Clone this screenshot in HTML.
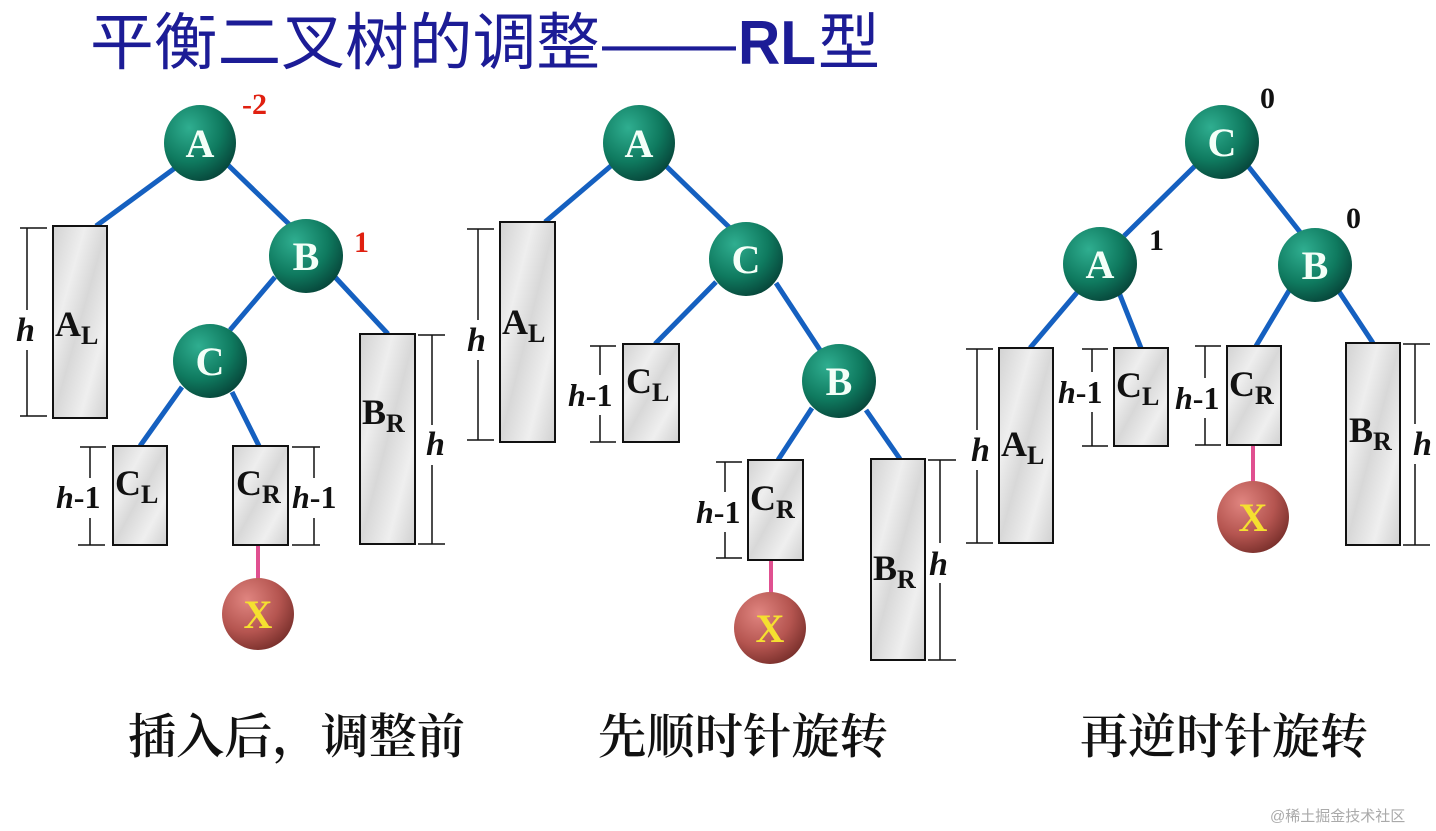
<!DOCTYPE html>
<html><head><meta charset="utf-8"><style>
html,body{margin:0;padding:0;background:#fff;}
svg{display:block}
.t{font-family:"Liberation Serif","Noto Serif CJK SC",serif;font-weight:bold}
</style></head><body>
<svg width="1436" height="831" viewBox="0 0 1436 831" xmlns="http://www.w3.org/2000/svg">
<defs>
<radialGradient id="g" cx="0.35" cy="0.3" r="0.75"><stop offset="0" stop-color="#2fae90"/><stop offset="0.6" stop-color="#0f7a5f"/><stop offset="1" stop-color="#07463a"/></radialGradient>
<radialGradient id="r" cx="0.35" cy="0.3" r="0.75"><stop offset="0" stop-color="#e08580"/><stop offset="0.6" stop-color="#b55550"/><stop offset="1" stop-color="#7a302c"/></radialGradient>
<linearGradient id="m" x1="0" y1="0" x2="1" y2="1"><stop offset="0" stop-color="#d2d2d2"/><stop offset="0.3" stop-color="#eeeeee"/><stop offset="0.5" stop-color="#d8d8d8"/><stop offset="0.75" stop-color="#efefef"/><stop offset="1" stop-color="#d0d0d0"/></linearGradient>
</defs>
<g font-family="Liberation Sans,'Noto Sans CJK SC',sans-serif" fill="#1c1c96">
<text x="90" y="64" font-size="62" textLength="510" lengthAdjust="spacingAndGlyphs">平衡二叉树的调整</text>
<text x="602" y="64" font-size="62" textLength="134" lengthAdjust="spacingAndGlyphs">——</text>
<text x="738" y="64" font-size="62" font-weight="bold" textLength="78" lengthAdjust="spacingAndGlyphs">RL</text>
<text x="818" y="64" font-size="62">型</text>
</g>

<g stroke="#1560c0" stroke-width="5" fill="none">
<line x1="175" y1="168" x2="96" y2="226"/><line x1="228" y1="165" x2="292" y2="227"/>
<line x1="275" y1="277" x2="230" y2="330"/><line x1="335" y1="277" x2="388" y2="334"/>
<line x1="182" y1="387" x2="140" y2="446"/><line x1="232" y1="392" x2="259" y2="446"/>
<line x1="612" y1="165" x2="545" y2="222"/><line x1="665" y1="165" x2="730" y2="228"/>
<line x1="716" y1="282" x2="655" y2="344"/><line x1="776" y1="283" x2="820" y2="350"/>
<line x1="812" y1="408" x2="778" y2="460"/><line x1="866" y1="410" x2="900" y2="459"/>
<line x1="1195" y1="166" x2="1124" y2="236"/><line x1="1248" y1="166" x2="1300" y2="232"/>
<line x1="1080" y1="289" x2="1030" y2="348"/><line x1="1118" y1="290" x2="1141" y2="348"/>
<line x1="1290" y1="289" x2="1256" y2="346"/><line x1="1338" y1="290" x2="1373" y2="343"/>
</g>
<g stroke="#e05090" stroke-width="4">
<line x1="258" y1="545" x2="258" y2="580"/><line x1="771" y1="560" x2="771" y2="594"/><line x1="1253" y1="445" x2="1253" y2="482"/>
</g>

<g fill="url(#m)" stroke="#111" stroke-width="2">
<rect x="53" y="226" width="54" height="192"/><rect x="113" y="446" width="54" height="99"/>
<rect x="233" y="446" width="55" height="99"/><rect x="360" y="334" width="55" height="210"/>
<rect x="500" y="222" width="55" height="220"/><rect x="623" y="344" width="56" height="98"/>
<rect x="748" y="460" width="55" height="100"/><rect x="871" y="459" width="54" height="201"/>
<rect x="999" y="348" width="54" height="195"/><rect x="1114" y="348" width="54" height="98"/>
<rect x="1227" y="346" width="54" height="99"/><rect x="1346" y="343" width="54" height="202"/>
</g>

<g stroke="#111" stroke-width="1.5" fill="none">
<path d="M20 228H47M20 416H47M27 228V310M27 350V416"/>
<path d="M80 447H106M78 545H105M90 447V478M90 518V545"/>
<path d="M292 447H320M292 545H320M314 447V478M314 518V545"/>
<path d="M418 335H445M418 544H445M432 335V425M432 465V544"/>
<path d="M467 229H494M467 440H494M478 229V320M478 360V440"/>
<path d="M590 346H616M590 442H616M600 346V375M600 415V442"/>
<path d="M716 462H742M716 558H742M725 462V492M725 532V558"/>
<path d="M928 460H956M928 660H956M940 460V543M940 583V660"/>
<path d="M966 349H993M966 543H993M977 349V430M977 470V543"/>
<path d="M1082 349H1108M1082 446H1108M1092 349V372M1092 412V446"/>
<path d="M1195 346H1221M1195 445H1221M1205 346V378M1205 418V445"/>
<path d="M1403 344H1430M1403 545H1430M1415 344V424M1415 464V545"/>
</g>

<g class="t" font-size="34" fill="#111" font-style="italic">
<text x="16" y="341">h</text><text x="467" y="351">h</text><text x="426" y="455">h</text>
<text x="929" y="575">h</text><text x="971" y="461">h</text><text x="1413" y="455">h</text>
</g>
<g class="t" font-size="32" fill="#111">
<text x="56" y="508"><tspan font-style="italic">h</tspan>-1</text>
<text x="292" y="508"><tspan font-style="italic">h</tspan>-1</text>
<text x="568" y="406"><tspan font-style="italic">h</tspan>-1</text>
<text x="696" y="523"><tspan font-style="italic">h</tspan>-1</text>
<text x="1058" y="403"><tspan font-style="italic">h</tspan>-1</text>
<text x="1175" y="409"><tspan font-style="italic">h</tspan>-1</text>
</g>
<g class="t" fill="#111">
<text x="55" y="336" font-size="36">A<tspan font-size="26" dy="8">L</tspan></text>
<text x="115" y="495" font-size="36">C<tspan font-size="26" dy="8">L</tspan></text>
<text x="236" y="495" font-size="36">C<tspan font-size="26" dy="8">R</tspan></text>
<text x="362" y="424" font-size="36">B<tspan font-size="26" dy="8">R</tspan></text>
<text x="502" y="334" font-size="36">A<tspan font-size="26" dy="8">L</tspan></text>
<text x="626" y="393" font-size="36">C<tspan font-size="26" dy="8">L</tspan></text>
<text x="750" y="510" font-size="36">C<tspan font-size="26" dy="8">R</tspan></text>
<text x="873" y="580" font-size="36">B<tspan font-size="26" dy="8">R</tspan></text>
<text x="1001" y="456" font-size="36">A<tspan font-size="26" dy="8">L</tspan></text>
<text x="1116" y="397" font-size="36">C<tspan font-size="26" dy="8">L</tspan></text>
<text x="1229" y="396" font-size="36">C<tspan font-size="26" dy="8">R</tspan></text>
<text x="1349" y="442" font-size="36">B<tspan font-size="26" dy="8">R</tspan></text>
</g>

<g fill="url(#g)">
<ellipse cx="200" cy="143" rx="36" ry="38"/><ellipse cx="306" cy="256" rx="37" ry="37"/><ellipse cx="210" cy="361" rx="37" ry="37"/>
<ellipse cx="639" cy="143" rx="36" ry="38"/><ellipse cx="746" cy="259" rx="37" ry="37"/><ellipse cx="839" cy="381" rx="37" ry="37"/>
<ellipse cx="1222" cy="142" rx="37" ry="37"/><ellipse cx="1100" cy="264" rx="37" ry="37"/><ellipse cx="1315" cy="265" rx="37" ry="37"/>
</g>
<g fill="url(#r)">
<circle cx="258" cy="614" r="36"/><circle cx="770" cy="628" r="36"/><circle cx="1253" cy="517" r="36"/>
</g>
<g class="t" font-size="40" fill="#f4fff8" text-anchor="middle">
<text x="200" y="157">A</text><text x="306" y="270">B</text><text x="210" y="375">C</text>
<text x="639" y="157">A</text><text x="746" y="273">C</text><text x="839" y="395">B</text>
<text x="1222" y="156">C</text><text x="1100" y="278">A</text><text x="1315" y="279">B</text>
</g>
<g class="t" font-size="40" fill="#f5e030" text-anchor="middle">
<text x="258" y="628">X</text><text x="770" y="642">X</text><text x="1253" y="531">X</text>
</g>
<g class="t" font-size="30">
<text x="242" y="114" fill="#e02010">-2</text><text x="354" y="252" fill="#e02010">1</text>
<text x="1260" y="108" fill="#111">0</text><text x="1149" y="250" fill="#111">1</text><text x="1346" y="228" fill="#111">0</text>
</g>
<g font-family="'Noto Serif CJK SC',serif" font-size="48" font-weight="600" fill="#111">
<text x="128" y="753" textLength="337" lengthAdjust="spacingAndGlyphs">插入后，调整前</text>
<text x="598" y="753" textLength="290" lengthAdjust="spacingAndGlyphs">先顺时针旋转</text>
<text x="1080" y="753" textLength="288" lengthAdjust="spacingAndGlyphs">再逆时针旋转</text>
</g>
<text x="1270" y="821" font-family="Liberation Sans,'Noto Sans CJK SC',sans-serif" font-size="15" fill="#aaa">@稀土掘金技术社区</text>
</svg>
</body></html>
